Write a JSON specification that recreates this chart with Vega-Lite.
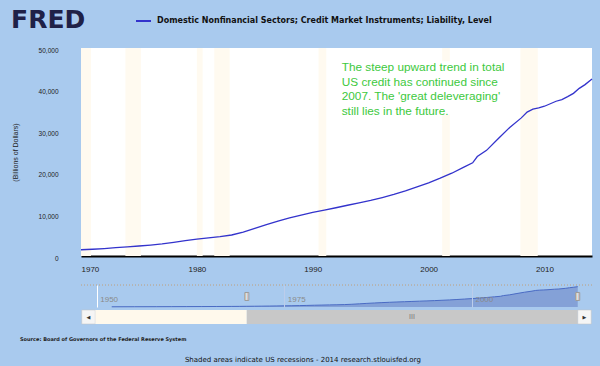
{
  "$schema": "https://vega.github.io/schema/vega-lite/v6.json",
  "background": "#A9CAEE",
  "padding": {"left": 11, "top": 8, "right": 8, "bottom": 2},
  "config": {
    "font": "Liberation Sans",
    "view": {"stroke": null},
    "axis": {"labelFont": "Liberation Sans", "titleFont": "Liberation Sans"}
  },
  "datasets": {
    "debt": [
      {"year": 1952.0, "value": 420}, {"year": 1955.0, "value": 530}, {"year": 1958.0, "value": 640},
      {"year": 1960.0, "value": 730}, {"year": 1962.0, "value": 820}, {"year": 1964.0, "value": 940},
      {"year": 1966.0, "value": 1070}, {"year": 1968.0, "value": 1230}, {"year": 1969.0, "value": 1330},
      {"year": 1970.0, "value": 1500}, {"year": 1971.0, "value": 1620}, {"year": 1972.0, "value": 1780},
      {"year": 1973.0, "value": 1990}, {"year": 1974.0, "value": 2200}, {"year": 1975.0, "value": 2400},
      {"year": 1976.0, "value": 2630}, {"year": 1977.0, "value": 2920}, {"year": 1978.0, "value": 3300},
      {"year": 1979.0, "value": 3720}, {"year": 1980.0, "value": 4050}, {"year": 1981.0, "value": 4380},
      {"year": 1982.0, "value": 4650}, {"year": 1983.0, "value": 5050}, {"year": 1984.0, "value": 5750},
      {"year": 1985.0, "value": 6650}, {"year": 1986.0, "value": 7550}, {"year": 1987.0, "value": 8400},
      {"year": 1988.0, "value": 9150}, {"year": 1989.0, "value": 9850}, {"year": 1990.0, "value": 10500},
      {"year": 1991.0, "value": 11050}, {"year": 1992.0, "value": 11600}, {"year": 1993.0, "value": 12200},
      {"year": 1994.0, "value": 12750}, {"year": 1995.0, "value": 13350}, {"year": 1996.0, "value": 14050},
      {"year": 1997.0, "value": 14800}, {"year": 1998.0, "value": 15650}, {"year": 1999.0, "value": 16600},
      {"year": 2000.0, "value": 17600}, {"year": 2001.0, "value": 18700}, {"year": 2002.0, "value": 19900},
      {"year": 2003.0, "value": 21300}, {"year": 2003.8, "value": 22400}, {"year": 2004.2, "value": 23900},
      {"year": 2005.0, "value": 25400}, {"year": 2006.0, "value": 28200}, {"year": 2007.0, "value": 30900},
      {"year": 2008.0, "value": 33200}, {"year": 2008.5, "value": 34600}, {"year": 2009.0, "value": 35300},
      {"year": 2009.5, "value": 35600}, {"year": 2010.0, "value": 36000}, {"year": 2011.0, "value": 37200},
      {"year": 2011.5, "value": 37600}, {"year": 2012.0, "value": 38300}, {"year": 2012.5, "value": 39100},
      {"year": 2013.0, "value": 40300}, {"year": 2013.5, "value": 41200}, {"year": 2014.1, "value": 42550}
    ],
    "recessions": [
      {"start": 1969.92, "end": 1970.86}, {"start": 1973.83, "end": 1975.17},
      {"start": 1980.0, "end": 1980.5}, {"start": 1981.5, "end": 1982.83},
      {"start": 1990.5, "end": 1991.17}, {"start": 2001.17, "end": 2001.83},
      {"start": 2007.92, "end": 2009.42}
    ]
  },
  "title": {
    "text": "Shaded areas indicate US recessions - 2014 research.stlouisfed.org",
    "orient": "bottom", "anchor": "middle", "font": "DejaVu Sans", "fontSize": 7,
    "fontWeight": "normal", "color": "#111111", "offset": 14
  },
  "spacing": 11,
  "vconcat": [
    {
      "width": 511, "height": 208,
      "view": {"fill": "white", "stroke": null},
      "title": {
        "text": "FRED", "anchor": "start", "frame": "bounds", "font": "DejaVu Sans", "fontSize": 25,
        "fontWeight": "bold", "color": "#1F2147", "offset": 14
      },
      "layer": [
        {
          "data": {"name": "recessions"},
          "mark": {"type": "rect", "color": "#FFFAF0", "clip": true},
          "encoding": {
            "x": {"field": "start", "type": "quantitative", "title": null, "scale": {"domain": [1970, 2014.1], "nice": false, "zero": false}},
            "x2": {"field": "end"}
          }
        },
        {
          "data": {"values": [{}]},
          "mark": {"type": "rect", "color": "white"},
          "encoding": {
            "x": {"datum": 1992.2, "type": "quantitative", "title": null},
            "x2": {"datum": 2006.9},
            "y": {"datum": 34000, "type": "quantitative", "title": "(Billions of Dollars)"},
            "y2": {"datum": 46800}
          }
        },
        {
          "data": {"name": "debt"},
          "transform": [{"filter": "datum.year >= 1970"}],
          "mark": {"type": "line", "strokeWidth": 1.3},
          "encoding": {
            "x": {
              "field": "year", "type": "quantitative", "title": null,
              "scale": {"domain": [1970, 2014.1], "nice": false, "zero": false},
              "axis": {
                "values": [1970, 1980, 1990, 2000, 2010], "format": "d", "grid": false, "ticks": false,
                "domainColor": "#000000", "domainWidth": 2, "labelFontSize": 8, "labelColor": "#222222",
                "labelPadding": 9
              }
            },
            "y": {
              "field": "value", "type": "quantitative", "title": "(Billions of Dollars)",
              "scale": {"domain": [0, 50000], "nice": false},
              "axis": {
                "values": [0, 10000, 20000, 30000, 40000, 50000], "labelExpr": "format(datum.value, ',')",
                "ticks": false, "domain": false,
                "gridColor": "#BDBDBD", "gridWidth": 1, "labelFontSize": 6.5, "labelColor": "#222222",
                "labelPadding": 23, "labelOffset": 2, "titleFontSize": 7, "titleFontWeight": "normal",
                "titleColor": "#222222", "titlePadding": 20
              }
            },
            "color": {
              "datum": "Domestic Nonfinancial Sectors; Credit Market Instruments; Liability, Level",
              "scale": {"range": ["#3333CC"]},
              "legend": {
                "orient": "none", "legendX": 54, "legendY": -35.5, "title": null, "symbolType": "stroke",
                "symbolStrokeWidth": 2, "symbolSize": 225, "labelFont": "DejaVu Sans",
                "labelFontWeight": "bold", "labelFontSize": 8, "labelColor": "#111111", "labelOffset": 5,
                "labelLimit": 0
              }
            }
          }
        },
        {
          "data": {"values": [{}]},
          "mark": {"type": "text", "align": "left", "baseline": "top", "fontSize": 11.8, "color": "#3DC93D", "lineHeight": 14.5, "font": "Liberation Sans"},
          "encoding": {
            "x": {"datum": 1992.5, "type": "quantitative", "title": null},
            "y": {"datum": 46600, "type": "quantitative", "title": "(Billions of Dollars)"},
            "text": {"value": ["The steep upward trend in total", "US credit has continued since", "2007. The 'great deleveraging'", "still lies in the future."]}
          }
        }
      ]
    },
    {
      "spacing": 0,
      "vconcat": [
        {
          "width": 511, "height": 22,
          "data": {"name": "debt"},
          "layer": [
            {
              "mark": {"type": "area", "color": "#7F9CD4", "opacity": 0.9, "line": {"color": "#4A6BC4", "strokeWidth": 1}},
              "encoding": {
                "x": {
                  "field": "year", "type": "quantitative", "title": null,
                  "scale": {"domain": [1947.9, 2016.0], "nice": false, "zero": false},
                  "axis": {
                    "values": [1950, 1975, 2000], "format": "d", "domain": false, "ticks": false, "grid": true,
                    "gridColor": {"condition": {"test": "datum.value == 1950", "value": "#FFFFFF"}, "value": "#BCCDEB"},
                    "labelAlign": "left", "labelOffset": 3, "labelPadding": -12, "labelFontSize": 8, "labelColor": "#8A8A8A",
                    "labelOverlap": false, "labelBound": false, "labelFlush": false, "zindex": 1
                  }
                },
                "y": {"field": "value", "type": "quantitative", "scale": {"domain": [0, 46000], "nice": false}, "axis": null}
              }
            },
            {
              "mark": {"type": "rule", "color": "#B4B4B4", "strokeDash": [1, 2], "strokeWidth": 1},
              "encoding": {"y": {"datum": 46000, "type": "quantitative"}}
            },
            {
              "data": {"values": [{"handle": 1970.0}, {"handle": 2014.1}]},
              "mark": {"type": "point", "shape": "M-0.25,-0.5H0.25V0.5H-0.25Z", "size": 256, "filled": true, "fill": "#FFFFFF", "stroke": "#9A9A9A", "strokeWidth": 1, "opacity": 1},
              "encoding": {
                "x": {"field": "handle", "type": "quantitative"},
                "y": {"datum": 22000, "type": "quantitative"}
              }
            },
            {
              "data": {"values": [{"handle": 1970.0}, {"handle": 2014.1}]},
              "mark": {"type": "text", "text": "||", "fontSize": 7, "color": "#888888", "baseline": "middle"},
              "encoding": {
                "x": {"field": "handle", "type": "quantitative"},
                "y": {"datum": 22000, "type": "quantitative"}
              }
            }
          ]
        },
        {
          "width": 511, "height": 14,
          "data": {"values": [{}]},
          "title": {
            "text": "Source: Board of Governors of the Federal Reserve System", "orient": "bottom", "anchor": "start",
            "frame": "group", "dx": -61, "offset": 13, "font": "DejaVu Sans", "fontSize": 5,
            "fontWeight": "bold", "color": "#222222"
          },
          "layer": [
            {
              "mark": {"type": "rect", "fill": "#F5F5F5", "stroke": "#C0C0C0", "strokeWidth": 0.5},
              "encoding": {
                "x": {"datum": 1948.0, "type": "quantitative", "scale": {"domain": [1947.9, 2016.0], "nice": false, "zero": false}, "axis": null},
                "x2": {"datum": 1949.8}
              }
            },
            {
              "mark": {"type": "rect", "fill": "#FFF9EC"},
              "encoding": {"x": {"datum": 1949.8, "type": "quantitative"}, "x2": {"datum": 1970.0}}
            },
            {
              "mark": {"type": "rect", "fill": "#C8C8C8"},
              "encoding": {"x": {"datum": 1970.0, "type": "quantitative"}, "x2": {"datum": 2014.1}}
            },
            {
              "mark": {"type": "rect", "fill": "#F5F5F5", "stroke": "#C0C0C0", "strokeWidth": 0.5},
              "encoding": {"x": {"datum": 2014.1, "type": "quantitative"}, "x2": {"datum": 2015.9}}
            },
            {
              "mark": {"type": "text", "text": "III", "fontSize": 7, "color": "#777777", "baseline": "middle", "font": "Liberation Sans"},
              "encoding": {"x": {"datum": 1992.0, "type": "quantitative"}, "y": {"value": 7}}
            },
            {
              "mark": {"type": "text", "text": "◀", "fontSize": 5, "color": "#333333", "baseline": "middle", "font": "DejaVu Sans"},
              "encoding": {"x": {"datum": 1948.9, "type": "quantitative"}, "y": {"value": 7}}
            },
            {
              "mark": {"type": "text", "text": "▶", "fontSize": 5, "color": "#333333", "baseline": "middle", "font": "DejaVu Sans"},
              "encoding": {"x": {"datum": 2015.0, "type": "quantitative"}, "y": {"value": 7}}
            }
          ]
        }
      ]
    }
  ]
}
